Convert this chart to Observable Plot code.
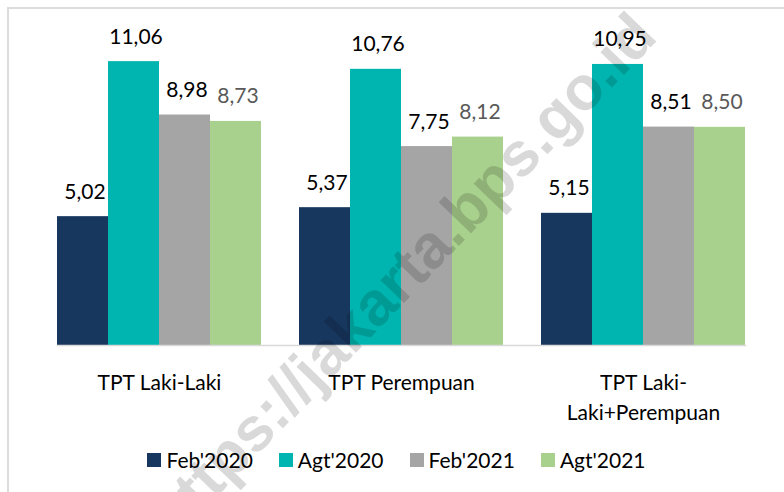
<!DOCTYPE html>
<html>
<head>
<meta charset="utf-8">
<script src="https://cdn.jsdelivr.net/npm/d3@7"></script>
<script src="https://cdn.jsdelivr.net/npm/@observablehq/plot@0.6"></script>
<style>
  html, body { margin: 0; padding: 0; background: #fff; }
  #wrap { position: relative; width: 784px; height: 492px; overflow: hidden; font-family: Lato, sans-serif; }
  #frame { position: absolute; left: 7px; top: 7px; width: 900px; height: 600px;
           border-left: 2px solid #dcdcdc; border-top: 2px solid #dcdcdc; box-sizing: border-box; }
  #chart { position: absolute; left: 0; top: 0; }
  #legend { position: absolute; left: 0; top: 447px; width: 784px; display: flex; justify-content: center;
            align-items: center; gap: 26px; font-size: 21px; color: #000; line-height: 26px; padding-left: 9px; box-sizing: border-box; }
  .item { display: flex; align-items: center; gap: 5px; }
  .sw { width: 14px; height: 14px; display: inline-block; }
  #wmclip { position: absolute; left: 9px; top: 9px; width: 775px; height: 483px; overflow: hidden; pointer-events: none; }
  #wm { position: absolute; left: 392px; top: 266px; transform: translate(-50%, -50%) rotate(-46deg);
        white-space: nowrap; font-family: "Liberation Sans", Arial, sans-serif; font-weight: bold;
        font-size: 62px; color: rgba(0,0,0,0.15); pointer-events: none; }
</style>
</head>
<body>
<div id="wrap">
  <div id="frame"></div>
  <div id="chart"></div>
  <div id="legend"></div>
  <div id="wmclip"><div id="wm">https://jakarta.bps.go.id</div></div>
</div>
<script>
const categories = ["TPT Laki-Laki", "TPT Perempuan", "TPT Laki-Laki+Perempuan"];
const categoryLabels = ["TPT Laki-Laki", "TPT Perempuan", "TPT Laki-\nLaki+Perempuan"];
const periods = ["Feb'2020", "Agt'2020", "Feb'2021", "Agt'2021"];
const feb2020 = [5.02, 5.37, 5.15];
const agt2020 = [11.06, 10.76, 10.95];
const feb2021 = [8.98, 7.75, 8.51];
const agt2021 = [8.73, 8.12, 8.50];
const colors = ["#17375e", "#00b5b0", "#a5a5a5", "#a9d18e"];

const series = [feb2020, agt2020, feb2021, agt2021];
const data = [];
categories.forEach((c, i) => {
  periods.forEach((p, j) => data.push({cat: c, period: p, value: series[j][i]}));
});
const fmt = v => v.toFixed(2).replace(".", ",");

const chart = Plot.plot({
  width: 784,
  height: 430,
  marginTop: 37,
  marginBottom: 85,
  marginLeft: 37,
  marginRight: 19,
  style: {fontFamily: "Lato, sans-serif", fontSize: "21px", background: "transparent", color: "#000"},
  fx: {domain: categories, paddingInner: 0.159, paddingOuter: 0.079, label: null},
  x: {domain: periods, padding: 0, axis: null},
  y: {domain: [0, 12], axis: null},
  color: {domain: periods, range: colors},
  marks: [
    Plot.barY(data, {fx: "cat", x: "period", y: "value", fill: "period"}),
    Plot.frame({anchor: "bottom", facet: "super", stroke: "#d9d9d9", strokeWidth: 1.5}),
    Plot.text(data, {fx: "cat", x: "period", y: "value", text: d => fmt(d.value),
      filter: d => d.period !== "Agt'2021", lineAnchor: "bottom", dy: -18, dx: 2,
      fill: "#000", fontSize: 21}),
    Plot.text(data, {fx: "cat", x: "period", y: "value", text: d => fmt(d.value),
      filter: d => d.period === "Agt'2021", lineAnchor: "bottom", dy: -18, dx: 2,
      fill: "#595959", fontSize: 21}),
    Plot.axisFx({anchor: "bottom", tickSize: 0, tickPadding: 23, fontSize: 21, lineHeight: 1.43,
      tickFormat: d => categoryLabels[categories.indexOf(d)], label: null, fill: "#000"})
  ]
});
document.getElementById("chart").appendChild(chart);

const legend = document.getElementById("legend");
periods.forEach((p, j) => {
  const item = document.createElement("div");
  item.className = "item";
  const sw = document.createElement("span");
  sw.className = "sw";
  sw.style.background = colors[j];
  const t = document.createElement("span");
  t.textContent = p;
  item.appendChild(sw);
  item.appendChild(t);
  legend.appendChild(item);
});
</script>
</body>
</html>
